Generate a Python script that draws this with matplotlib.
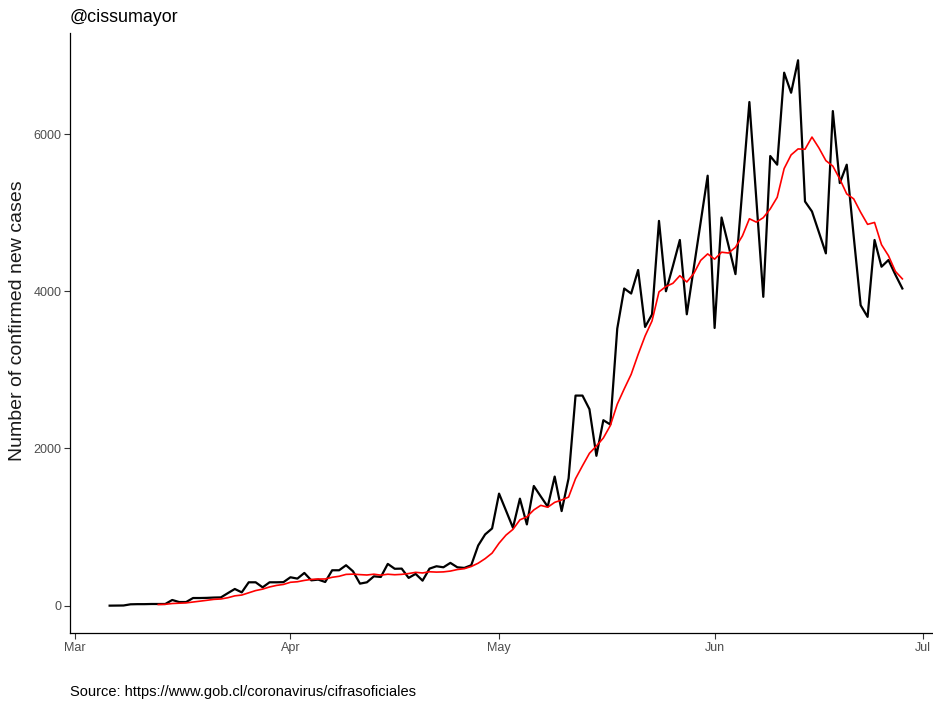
import pandas as pd
import matplotlib
matplotlib.use('Agg')
import matplotlib.pyplot as plt
import matplotlib.dates as mdates

plt.rcParams['font.family'] = ['Liberation Sans', 'DejaVu Sans']

# daily confirmed new cases, Chile, 6 Mar - 28 Jun 2020
first_day = '2020-03-06'
last_day = '2020-06-28'
avg_from = '2020-03-07'   # the 7-day average in the original begins one window later
new_cases = [
    1, 2, 3, 18, 20, 20, 22, 22, 22, 73,            # Mar 6 - Mar 15
    47, 47, 98, 98, 100, 104, 106, 160, 213, 170,   # Mar 16 - Mar 25
    298, 298, 234, 298, 298, 300, 362, 345, 417, 323,  # Mar 26 - Apr 4
    332, 302, 451, 451, 515, 438, 281, 298, 374, 366,  # Apr 5 - Apr 14
    532, 470, 472, 354, 405, 319, 472, 502, 489, 545,  # Apr 15 - Apr 24
    489, 481, 515, 766, 907, 983, 1426, 1210, 992, 1362,  # Apr 25 - May 4
    1034, 1523, 1390, 1260, 1643, 1204, 1620, 2673, 2673, 2500,  # May 5 - May 14
    1907, 2360, 2305, 3525, 4035, 3971, 4270, 3546, 3705, 4895,  # May 15 - May 24
    4000, 4320, 4652, 3707, 4294, 4882, 5470, 3533, 4938, 4580,  # May 25 - Jun 3
    4218, 5310, 6407, 5170, 3929, 5720, 5610, 6780, 6525, 6938,  # Jun 4 - Jun 13
    5142, 5015, 4750, 4482, 6292, 5376, 5610, 4700, 3822, 3674,  # Jun 14 - Jun 23
    4652, 4312, 4397, 4210, 4035,                    # Jun 24 - Jun 28
]
y_ticks = [0, 2000, 4000, 6000]

dates = pd.date_range(first_day, last_day, freq='D')
cases = pd.Series(new_cases, index=dates)
avg7 = cases.loc[avg_from:].rolling(7).mean()

W, H = 933, 702
fig = plt.figure(figsize=(W / 100, H / 100), dpi=100)
# panel runs a bit past the right edge, like the cropped original
ax = fig.add_axes([70 / W, 69 / H, 872 / W, 600 / H])

ax.plot(dates, cases.values, color='black', lw=1.6)
ax.plot(avg7.index, avg7.values, color='red', lw=1.2)

pad = (dates[-1] - dates[0]) * 0.05
ax.set_xlim(dates[0] - pad, dates[-1] + pad)
top = cases.max()
ax.set_ylim(-0.05 * top, 1.05 * top)

ax.xaxis.set_major_locator(mdates.MonthLocator())
ax.xaxis.set_major_formatter(mdates.DateFormatter('%b'))
ax.set_yticks(y_ticks)
ax.set_yticklabels([str(v) for v in y_ticks])

for side in ['top', 'right']:
    ax.spines[side].set_visible(False)
for side in ['left', 'bottom']:
    ax.spines[side].set_color('black')
    ax.spines[side].set_linewidth(0.9)
ax.tick_params(length=4.5, width=0.8, color='#333333', labelcolor='#4D4D4D',
               labelsize=9, pad=2)
ax.tick_params(axis='y', pad=1.5)

ax.set_ylabel('Number of confirmed new cases', fontsize=14, color='#1A1A1A')
ax.yaxis.set_label_coords(-0.051, 0.52)

fig.text(70 / W, 1 - 18 / H, '@cissumayor', fontsize=12.9, ha='left', va='center')
fig.text(70 / W, 1 - 692 / H, 'Source: https://www.gob.cl/coronavirus/cifrasoficiales',
         fontsize=10.5, ha='left', va='center')

fig.savefig('out.png', dpi=100)
